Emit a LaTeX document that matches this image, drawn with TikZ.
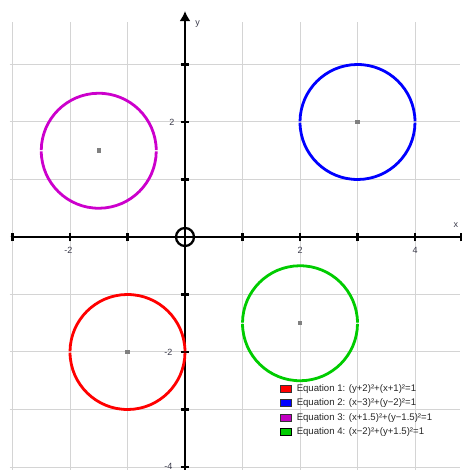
\documentclass[tikz,border=0pt]{standalone}
\usepackage{fontspec}
\setmainfont{Liberation Sans}
\usetikzlibrary{arrows.meta}
\definecolor{gridc}{HTML}{D4D4D4}
\definecolor{labc}{HTML}{3A3A4A}
\definecolor{cred}{HTML}{FF0000}
\definecolor{cblue}{HTML}{0000FF}
\definecolor{cmag}{HTML}{CC00CC}
\definecolor{cgreen}{HTML}{00CC00}
\definecolor{cmark}{HTML}{808080}
\tikzset{
  gridline/.style={draw=gridc,line width=1pt},
  axisline/.style={draw=black,line width=2.4pt},
  tickmark/.style={draw=black,line width=2.2pt},
  curve/.style={line width=2.8pt},
  ctr/.style={fill=cmark,minimum size=4.5pt,inner sep=0pt,rectangle},
  axlab/.style={font=\fontsize{9pt}{10pt}\selectfont,text=labc,inner sep=0pt},
  legbox/.style={draw=black!80,line width=0.8pt,minimum width=11pt,minimum height=7pt,inner sep=0pt},
  legtext/.style={font=\fontsize{9.6pt}{10pt}\selectfont,anchor=west,inner sep=0pt,text=black!85},
}
\begin{document}
\begin{tikzpicture}[x=57.5pt,y=57.5pt]
\useasboundingbox (-3.2174,-4.0522) rectangle (4.8174,4.1217);
% grid
\foreach \x in {-3,...,4} \draw[gridline] (\x,-4.06) -- (\x,3.74);
\foreach \y in {-4,...,3} \draw[gridline] (-3.05,\y) -- (4.78,\y);
% axes
\coordinate (xl) at (-3,0);
\coordinate (xr) at (4.8,0);
\coordinate (yb) at (0,-4.06);
\coordinate (yt) at (0,3.93);
\draw[axisline] (xl) -- (xr);
\draw[axisline,-{Latex[length=10pt,width=11pt]}] (yb) -- (yt);
\foreach \x in {-3,-2,-1,1,2,3,4,4.8} \draw[tickmark] (\x,-0.075) -- (\x,0.075);
\foreach \y in {-4,-3,-2,-1,1,2,3} \draw[tickmark] (-0.075,\y) -- (0.075,\y);
% axis labels
\node[axlab] (lxm2) at (-2.03,-0.23) {-2};
\node[axlab] (lx2) at (2,-0.23) {2};
\node[axlab] (lx4) at (4,-0.23) {4};
\node[axlab] (ly2) at (-0.23,2) {2};
\node[axlab] (lym2) at (-0.29,-2) {-2};
\node[axlab] (lym4) at (-0.29,-3.985) {-4};
\node[axlab] (lxx) at (4.71,0.21) {x};
\node[axlab] (lyy) at (0.22,3.7) {y};
% origin marker
\node[draw=black,line width=2.3pt,circle,minimum size=18pt,inner sep=0pt] (origin) at (0,0) {};
% circles
\node[ctr] (c1) at (-1,-2) {};
\node[ctr] (c2) at (3,2) {};
\node[ctr] (c3) at (-1.5,1.5) {};
\node[ctr] (c4) at (2,-1.5) {};
\foreach \c/\col in {c1/cred,c2/cblue,c3/cmag,c4/cgreen}{
  \draw[curve,\col] ([shift={(0.6:1)}]\c.center) arc[start angle=0.6,end angle=179.4,radius=1];
  \draw[curve,\col] ([shift={(180.6:1)}]\c.center) arc[start angle=180.6,end angle=359.4,radius=1];
}
% legend
\node[legbox,fill=cred] (b1) at (1.757,-2.638) {};
\node[legbox,fill=cblue] (b2) at (1.757,-2.889) {};
\node[legbox,fill=cmag!95!black] (b3) at (1.757,-3.140) {};
\node[legbox,fill=cgreen,draw=black,line width=1.5pt] (b4) at (1.757,-3.391) {};
\node[legtext] (t1) at (1.94,-2.638) {Equation 1: (y+2)²+(x+1)²=1};
\node[legtext] (t2) at (1.94,-2.889) {Equation 2: (x−3)²+(y−2)²=1};
\node[legtext] (t3) at (1.94,-3.140) {Equation 3: (x+1.5)²+(y−1.5)²=1};
\node[legtext] (t4) at (1.94,-3.391) {Equation 4: (x−2)²+(y+1.5)²=1};
\end{tikzpicture}
\end{document}
